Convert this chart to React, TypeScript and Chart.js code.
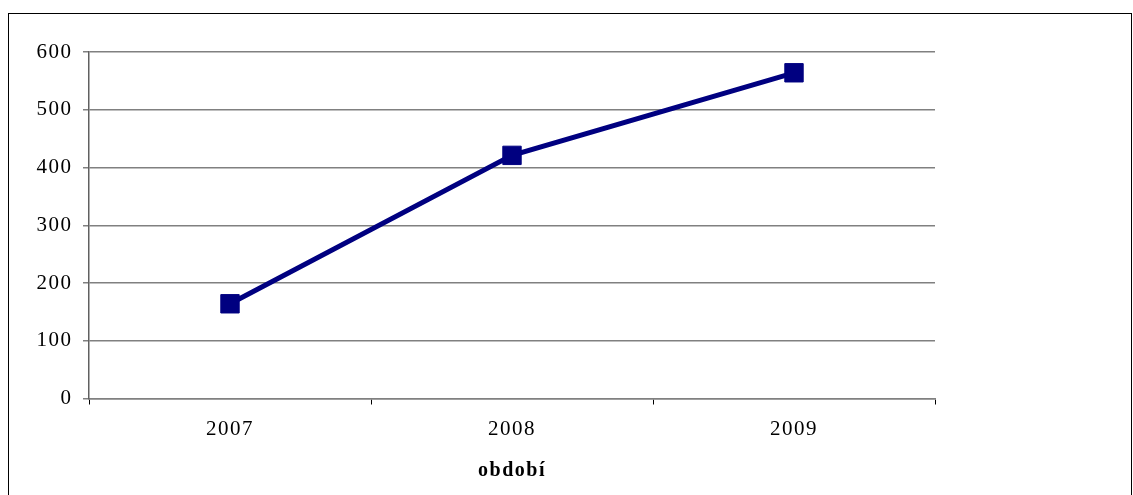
import React, { useEffect, useRef } from "react";
import { Chart, registerables } from "chart.js";

Chart.register(...registerables);

const categories: string[] = ["2007", "2008", "2009"];
const values: number[] = [164, 421, 564];
const yTicks: number[] = [0, 100, 200, 300, 400, 500, 600];
const xTitle = "období";

const FONT = "'Times New Roman', 'Liberation Serif', serif";

const spacingPlugin = {
  id: "letterSpacing",
  beforeLayout(chart: any) {
    chart.ctx.letterSpacing = "1.5px";
  },
  beforeDraw(chart: any) {
    chart.ctx.letterSpacing = "1.5px";
  },
};

export default function App() {
  const ref = useRef<HTMLCanvasElement | null>(null);

  useEffect(() => {
    if (!ref.current) return;
    const chart = new Chart(ref.current, {
      type: "line",
      data: {
        labels: categories,
        datasets: [
          {
            data: values,
            borderColor: "#000080",
            backgroundColor: "#000080",
            borderWidth: 5,
            pointStyle: "rect",
            pointRadius: 13,
            pointBorderWidth: 1,
            pointBorderColor: "#000080",
            pointBackgroundColor: "#000080",
            tension: 0,
          },
        ],
      },
      plugins: [spacingPlugin],
      options: {
        animation: false,
        responsive: false,
        maintainAspectRatio: false,
        devicePixelRatio: 1,
        layout: { padding: { left: 0, top: 52, right: 198, bottom: 0 } },
        plugins: {
          legend: { display: false },
          tooltip: { enabled: false },
        },
        scales: {
          x: {
            type: "category",
            offset: true,
            grid: {
              offset: true,
              drawOnChartArea: false,
              drawTicks: true,
              tickLength: 6,
              color: "#000000",
              lineWidth: 1,
            },
            border: { display: true, color: "#808080", width: 1.5 },
            ticks: {
              color: "#000000",
              padding: 12,
              font: { family: FONT, size: 21 },
            },
            title: {
              display: true,
              text: xTitle,
              color: "#000000",
              font: { family: FONT, size: 20, weight: "bold" },
              padding: { top: 0, bottom: 12 },
            },
            afterFit: (scale: any) => {
              scale.height = 96.5;
            },
          },
          y: {
            min: 0,
            max: 600,
            afterBuildTicks: (scale: any) => {
              scale.ticks = yTicks.map((v) => ({ value: v }));
            },
            grid: {
              color: "#808080",
              lineWidth: 1.5,
              tickLength: 6,
              drawTicks: true,
            },
            border: { display: true, color: "#606060", width: 1.5 },
            ticks: {
              color: "#000000",
              padding: 10.5,
              font: { family: FONT, size: 21 },
            },
            afterFit: (scale: any) => {
              scale.width = 89;
            },
          },
        },
      },
    });
    return () => chart.destroy();
  }, []);

  return (
    <div
      style={{
        position: "absolute",
        left: 0,
        top: 0,
        width: 1133,
        height: 495,
        overflow: "hidden",
        background: "#ffffff",
      }}
    >
      <div
        style={{
          position: "absolute",
          left: 8,
          top: 13,
          width: 1124,
          height: 520,
          border: "1px solid #000000",
          boxSizing: "border-box",
        }}
      />
      <canvas
        ref={ref}
        width={1133}
        height={495}
        style={{ position: "absolute", left: 0, top: 0, width: 1133, height: 495 }}
      />
    </div>
  );
}
